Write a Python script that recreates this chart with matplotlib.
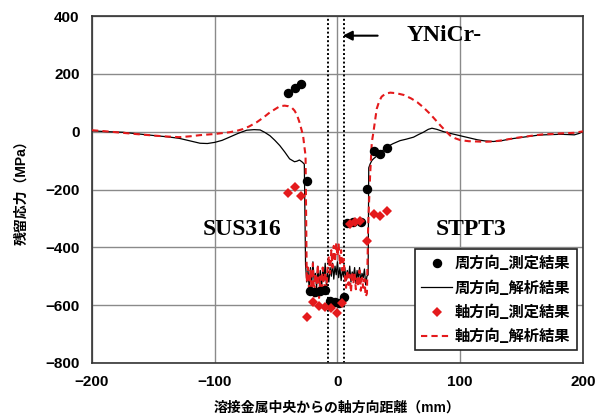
import numpy as np
import matplotlib
matplotlib.use('Agg')
import matplotlib.pyplot as plt

plt.rcParams['font.family'] = ['Liberation Sans', 'Noto Sans CJK JP', 'DejaVu Sans']

# measured points (distance from weld centre [mm], residual stress [MPa])
circ_meas_x = [-40, -35, -30, -25, -22, -18, -14, -10, -6, -2, 1, 5, 8, 13, 19, 24.4, 30, 35, 40]
circ_meas_y = [134, 150, 165, -172, -552, -555, -550, -548, -585, -590, -593, -573,
               -316, -312, -312, -199, -66, -78, -55]

axial_meas_x = [-40, -35, -30, -25, -20, -15, -10, -5, -0.5, 3.5, 10, 14, 18, 24.4, 30, 35, 40]
axial_meas_y = [-213, -190, -221, -642, -588, -604, -605, -611, -628, -593,
                -318, -314, -310, -379, -285, -293, -273]

# FEM results, circumferential
circ_fem_left_x = [-200, -188, -175, -162, -148, -138, -129, -120, -112, -106, -100, -94, -88,
                   -81, -74, -68, -63, -59, -55, -51, -47, -43, -39, -35, -33, -31, -29, -27]
circ_fem_left_y = [3, 0, -2, -8, -14, -18, -23, -32, -40, -41, -37, -30, -19,
                   -6, 5, 7, 6, -3, -14, -30, -48, -70, -94, -104, -102, -98, -104, -112]
circ_fem_weld_x = [-26, -25, -24, -23, -22, -21, -20, -19, -18, -17, -16, -15, -14, -13, -12,
                   -11, -10, -9, -8, -7, -6, -5, -4, -3, -2, -1, 0, 1, 2, 3, 4, 5, 6, 7, 8,
                   9, 10, 11, 12, 13, 14, 15, 16, 17, 18, 19, 20, 21, 22, 23, 24, 25]
circ_fem_weld_y = [-460, -520, -480, -545, -470, -530, -450, -515, -490, -540, -465, -525, -480,
                   -550, -470, -515, -455, -530, -490, -520, -470, -500, -455, -510, -465, -495,
                   -450, -505, -470, -515, -480, -500, -470, -515, -480, -505, -465, -520, -485,
                   -500, -470, -525, -480, -510, -470, -520, -490, -505, -475, -530, -500, -495]
circ_fem_right_x = [25.5, 26.6, 28, 29.3, 30.7, 33, 36, 40, 45, 51, 56, 62, 66, 70, 74, 77, 81,
                    86.5, 93, 100, 107, 114, 120, 127, 134, 141, 148, 155, 162, 168, 175, 182,
                    188, 193, 197, 200]
circ_fem_right_y = [-125, -112, -100, -94, -89, -80, -68, -54, -42, -31, -26, -19, -10, -2, 8, 12,
                    8, 0, -7, -14, -21, -28, -32, -34, -31, -25, -21, -17, -13, -11, -10, -9,
                    -10, -11, -6, 0]

# FEM results, axial
axial_fem_left_x = [-200, -188, -175, -162, -148, -138, -129, -120, -112, -106, -100, -94, -88,
                    -82, -77, -72, -66, -60, -55, -50, -47, -43, -40, -37, -35, -33, -31, -29.5,
                    -28, -27, -26, -25.5]
axial_fem_left_y = [5, 1, -4, -9, -14, -17, -19, -16, -12, -10, -8, -5, -2,
                    3, 9, 18, 32, 50, 67, 80, 88, 90, 88, 82, 73, 58, 33, 10,
                    -14, -50, -83, -300]
axial_fem_weld_x = [-25, -24, -23, -22, -21, -20, -19, -18, -17, -16, -15, -14, -13, -12, -11,
                    -10, -9, -8, -7, -6, -5, -4, -3, -2, -1, 0, 1, 2, 3, 4, 5, 6, 7, 8, 9,
                    10, 11, 12, 13, 14, 15, 16, 17, 18, 19, 20, 21, 22, 23]
axial_fem_weld_y = [-520, -470, -560, -480, -545, -455, -570, -490, -530, -460, -575, -500, -540,
                    -470, -560, -485, -545, -470, -430, -490, -410, -470, -395, -450, -385, -430,
                    -390, -460, -410, -480, -440, -500, -540, -480, -530, -495, -555, -485, -525,
                    -490, -545, -500, -535, -480, -550, -505, -540, -510, -570]
axial_fem_right_x = [24, 24.5, 25, 25.7, 26.6, 28, 29.3, 30.7, 32, 34, 36, 39, 43, 48, 54, 60,
                     65, 70, 75.6, 80, 84, 88, 92, 96, 100, 107, 114, 120, 127, 134, 141, 148,
                     155, 162, 168, 175, 182, 188, 193, 197, 200]
axial_fem_right_y = [-560, -450, -330, -250, -152, -37, -2, 40, 79, 105, 121, 131, 135, 133, 127,
                     115, 102, 84, 61, 40, 21, 3, -14, -23, -29, -33, -34, -35, -34, -30, -25,
                     -20, -16, -12, -9, -8, -6, -5, -4, -1, 1]

weld_bounds = [-7.5, 5.5]
x_ticks = [-200, -100, 0, 100, 200]
y_ticks = [-800, -600, -400, -200, 0, 200, 400]

circ_fem_x = circ_fem_left_x + circ_fem_weld_x + circ_fem_right_x
circ_fem_y = circ_fem_left_y + circ_fem_weld_y + circ_fem_right_y
axial_fem_x = axial_fem_left_x + axial_fem_weld_x + axial_fem_right_x
axial_fem_y = axial_fem_left_y + axial_fem_weld_y + axial_fem_right_y

red = '#e41a1c'

fig = plt.figure(figsize=(5.96, 4.18), dpi=100)
ax = fig.add_axes([0.1544, 0.1316, 0.8236, 0.8301])

ax.plot(circ_meas_x, circ_meas_y, 'o', color='black', markersize=5.8, zorder=5,
        label='周方向_測定結果')
ax.plot(circ_fem_x, circ_fem_y, '-', color='black', lw=0.9, zorder=3,
        label='周方向_解析結果')
ax.plot(axial_meas_x, axial_meas_y, 'D', color=red, markersize=5, markeredgewidth=0,
        zorder=6, label='軸方向_測定結果')
ax.plot(axial_fem_x, axial_fem_y, '--', color=red, lw=1.5, dashes=(3, 2), zorder=4,
        label='軸方向_解析結果')

for xb in weld_bounds:
    ax.axvline(xb, color='black', ls=(0, (1, 1.2)), lw=1.4, zorder=2)

ax.annotate('', xy=(2, 332), xytext=(35, 332),
            arrowprops=dict(arrowstyle='-|>', color='black', lw=1.5, mutation_scale=14))
serif = dict(family='Liberation Serif', fontweight='bold', fontsize=17)
ax.text(56.5, 332, 'YNiCr-', ha='left', va='center', **serif)
ax.text(-77.5, -339, 'SUS316', ha='center', va='center', **serif)
ax.text(108.5, -339, 'STPT3', ha='center', va='center', **serif)

ax.set_xlim(-200, 200)
ax.set_ylim(-800, 400)
ax.set_xticks(x_ticks)
ax.set_yticks(y_ticks)
ax.tick_params(length=0, labelsize=11, pad=9)
for lab in ax.get_xticklabels() + ax.get_yticklabels():
    lab.set_fontweight('bold')
ax.grid(True, color='#8a8a8a', lw=1)
ax.set_axisbelow(True)
for sp in ax.spines.values():
    sp.set_color('#333333')
    sp.set_linewidth(1.2)

ax.set_xlabel('溶接金属中央からの軸方向距離（mm）', fontsize=10, fontweight='bold', labelpad=8)
ax.set_ylabel('残留応力（MPa）', fontsize=10, fontweight='bold', labelpad=12)

leg = ax.legend(loc='lower right', bbox_to_anchor=(0.987, 0.036), borderaxespad=0,
                frameon=True, fancybox=False, edgecolor='#222222', framealpha=1,
                handlelength=2.0, labelspacing=0.55, borderpad=0.4, handletextpad=0.2,
                prop={'family': ['Noto Sans CJK JP'], 'weight': 'bold', 'size': 11})
leg.get_frame().set_linewidth(1.2)

fig.savefig('out.png', dpi=100)
